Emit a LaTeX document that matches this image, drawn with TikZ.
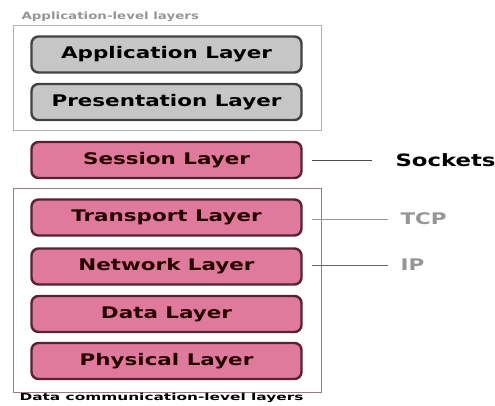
\documentclass[tikz,border=0pt]{standalone}
\usepackage{fontspec}
\setmainfont{DejaVu Sans}
\newfontfamily\layerfont[FakeStretch=1.34]{DejaVu Sans Bold}
\newfontfamily\widefont[FakeStretch=1.6]{DejaVu Sans Bold}
\usetikzlibrary{positioning}
\definecolor{layerpink}{RGB}{224,122,157}
\definecolor{layergray}{RGB}{198,198,198}
\definecolor{pinkedge}{RGB}{88,34,50}
\definecolor{grayedge}{RGB}{66,66,66}
\definecolor{labelgray}{RGB}{150,150,150}

\begin{document}
\begin{tikzpicture}
    [
      x=1pt, y=-1pt,
      layer/.style = {rounded corners=7pt, line width=2.4pt, minimum width=270pt,
                      minimum height=36pt, font=\layerfont\fontsize{16}{16}\selectfont,
                      inner sep=0pt},
      graylayer/.style = {layer, draw=grayedge, fill=layergray},
      pinklayer/.style = {layer, draw=pinkedge, fill=layerpink, text=black!85!red},
      group/.style = {line width=0.6pt},
      tag/.style = {draw=labelgray, line width=0.9pt},
    ]
    \useasboundingbox (0,0) rectangle (495,406);

    \draw[group, draw=black!30] (13,25) rectangle (321,130);
    \draw[group, draw=pinkedge!60] (13,188) rectangle (321,392);

    \node[font=\layerfont\fontsize{10}{10}\selectfont, text=labelgray, anchor=west] (apptitle) at (18,17) {Application-level layers};
    \node[font=\widefont\fontsize{9.6}{9.6}\selectfont, anchor=west] (datatitle) at (16,398) {Data communication-level layers};

    \node[graylayer] (app) at (166.5,54.5) {Application Layer};
    \node[graylayer] (pres) at (166.5,102) {Presentation Layer};
    \node[pinklayer] (sess) at (166.5,160) {Session Layer};
    \node[pinklayer] (trans) at (166.5,217.5) {Transport Layer};
    \node[pinklayer] (net) at (166.5,266.5) {Network Layer};
    \node[pinklayer] (data) at (166.5,314) {Data Layer};
    \node[pinklayer] (phys) at (166.5,361) {Physical Layer};

    \node[font=\layerfont\fontsize{17}{17}\selectfont, anchor=west] (sockets) at (392,160) {Sockets};
    \node[font=\layerfont\fontsize{16}{16}\selectfont, text=labelgray, anchor=west] (tcp) at (397,219) {TCP};
    \node[font=\layerfont\fontsize{16}{16}\selectfont, text=labelgray, anchor=west] (ip) at (397,265) {IP};

    \coordinate (s0) at (312,160);
    \coordinate (t0) at (312,219);
    \coordinate (i0) at (312,265);
    \draw[tag, draw=black!70] (s0) -- (sockets.west -| 372,0);
    \draw[tag] (t0) -- (tcp.west -| 388,0);
    \draw[tag, draw=black!60] (i0) -- (ip.west -| 388,0);
\end{tikzpicture}
\end{document}
